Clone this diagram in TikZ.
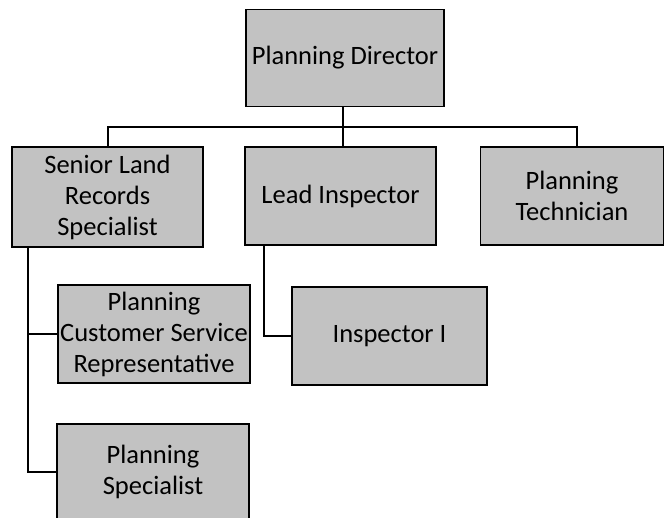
\documentclass[tikz,border=0pt]{standalone}
\usepackage{fontspec}
\setmainfont{Carlito}
\usepackage{tikz}

\begin{document}
\begin{tikzpicture}[x=1pt,y=-1pt,
  post/.style={draw,line width=1.6pt,fill=black!24,align=center,
    inner sep=0pt,font=\fontsize{26.5}{31}\selectfont},
  link/.style={line width=2pt}]
\useasboundingbox (0,0) rectangle (664,518);
\node [post,minimum width=198pt,minimum height=97pt] (dir) at (345,58) {Planning Director};
\node [post,minimum width=191pt,minimum height=100pt] (sen) at (107.5,197) {Senior Land\\Records\\Specialist};
\node [post,minimum width=191pt,minimum height=98pt] (lead) at (340.5,196) {Lead Inspector};
\node [post,minimum width=183pt,minimum height=98pt] (tech) at (572,196) {Planning\\Technician};
\node [post,minimum width=192pt,minimum height=98pt] (pcsr) at (154,334) {Planning\\Customer Service\\Representative};
\node [post,minimum width=195pt,minimum height=98pt] (insp) at (389.5,336) {Inspector I};
\node [post,minimum width=192pt,minimum height=96pt] (pspec) at (153,472) {Planning\\Specialist};
\coordinate (bar) at (343,127);
\draw [link] ([xshift=-2pt]dir.south) -- ([xshift=-2pt]dir.south |- lead.north);
\draw [link] (sen.north) |- (bar) -| ([xshift=5pt]tech.north);
\draw [link] ([xshift=-79.5pt]sen.south) |- (pcsr.west);
\draw [link] ([xshift=-79.5pt]sen.south) |- (pspec.west);
\draw [link] ([xshift=-76.5pt]lead.south) |- (insp.west);
\end{tikzpicture}
\end{document}
